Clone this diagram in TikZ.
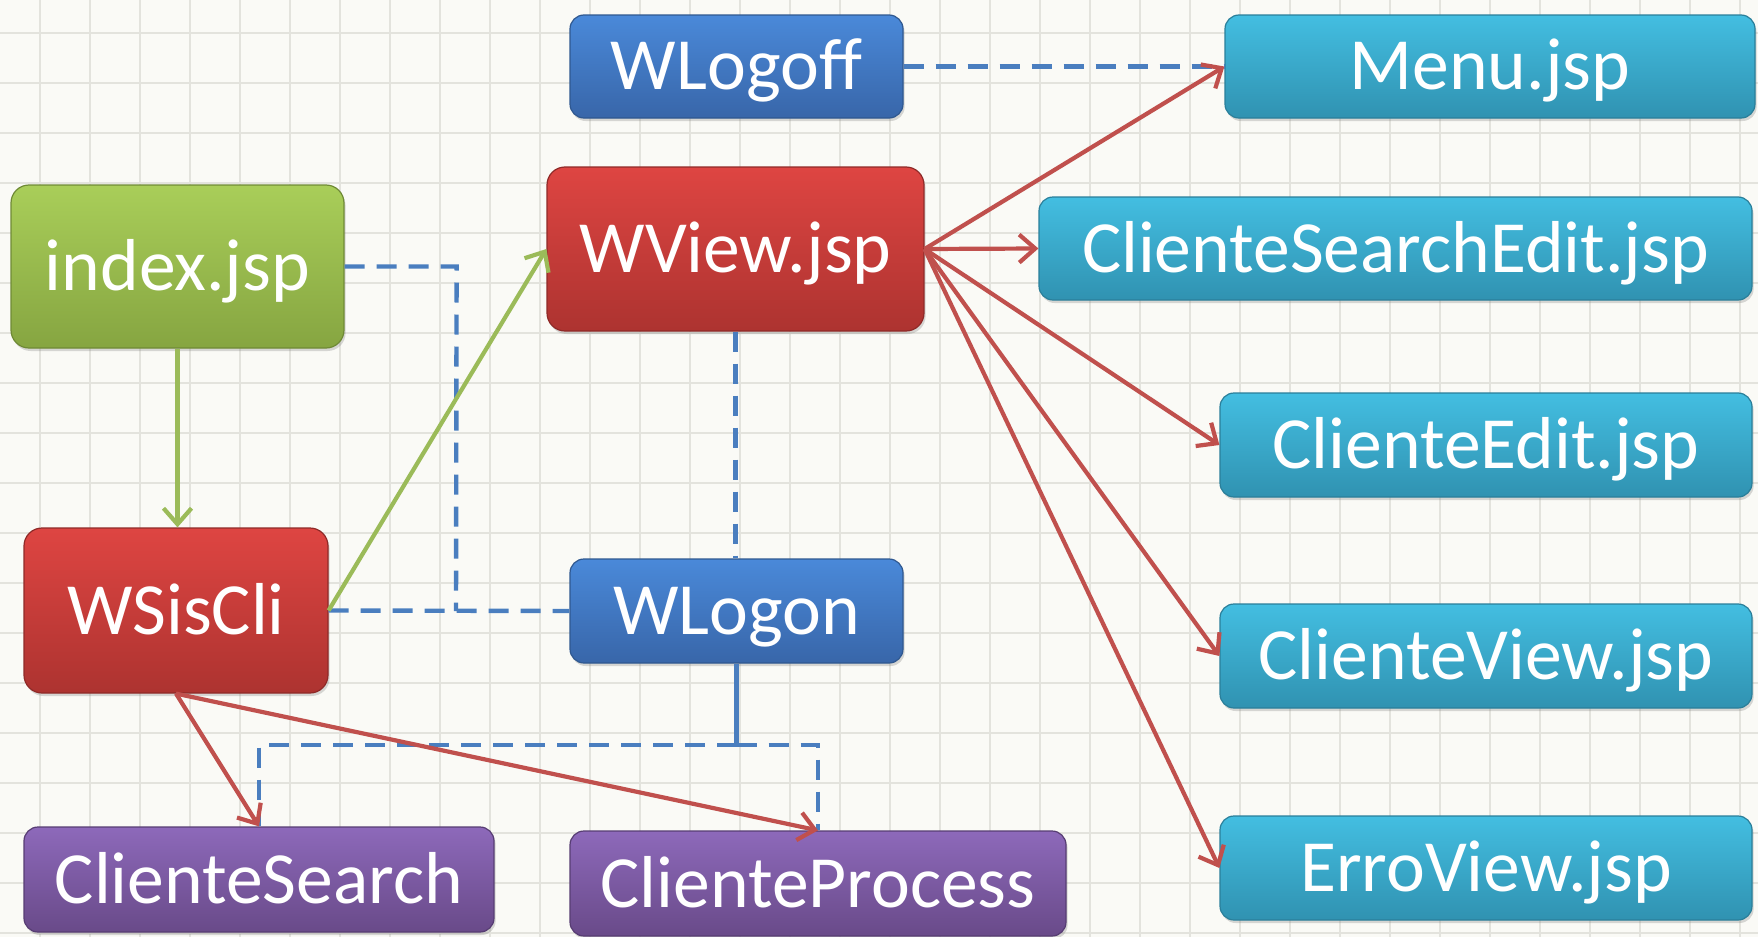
\documentclass[tikz,border=0pt]{standalone}
\usepackage{fontspec}
\setmainfont{Carlito}
\usetikzlibrary{arrows.meta,shadows}
\definecolor{bgcol}{HTML}{FAFAF6}
\definecolor{gridcol}{HTML}{E3E3DD}
\definecolor{cyanT}{HTML}{43BEE1}
\definecolor{cyanB}{HTML}{3092B1}
\definecolor{cyanD}{HTML}{2A7F9A}
\definecolor{blueT}{HTML}{4A89D9}
\definecolor{blueB}{HTML}{3866A9}
\definecolor{blueD}{HTML}{2F5890}
\definecolor{redT}{HTML}{DE4542}
\definecolor{redB}{HTML}{AD3330}
\definecolor{redD}{HTML}{8F2A28}
\definecolor{greenT}{HTML}{A9CE59}
\definecolor{greenB}{HTML}{86A541}
\definecolor{greenD}{HTML}{6F8A35}
\definecolor{purpT}{HTML}{8D69BA}
\definecolor{purpB}{HTML}{694A89}
\definecolor{purpD}{HTML}{573D73}
\definecolor{lineblue}{HTML}{4A7EBF}
\definecolor{linered}{HTML}{C0504D}
\definecolor{linegreen}{HTML}{9BBB59}
\begin{document}
\begin{tikzpicture}[x=0.5pt,y=-0.5pt,
  sz/.style 2 args={minimum width=#1*0.5pt, minimum height=#2*0.5pt},
  box/.style={rounded corners=7pt, line width=0.6pt, text=white, inner sep=0pt,
    font=\fontsize{36.8}{40}\selectfont, text height=23.5pt, text depth=0pt,
    drop shadow={opacity=0.3, shadow xshift=0.8pt, shadow yshift=-1.5pt}},
  cyanbox/.style={box, top color=cyanT, bottom color=cyanB, draw=cyanD},
  bluebox/.style={box, top color=blueT, bottom color=blueB, draw=blueD},
  redbox/.style={box, top color=redT, bottom color=redB, draw=redD, rounded corners=9pt},
  greenbox/.style={box, top color=greenT, bottom color=greenB, draw=greenD, rounded corners=9pt},
  purpbox/.style={box, top color=purpT, bottom color=purpB, draw=purpD},
  bluedash/.style={draw=lineblue, line width=2.2pt, dash pattern=on 10pt off 6pt},
  bluesolid/.style={draw=lineblue, line width=2.2pt},
  redarrow/.style={draw=linered, line width=2.1pt, -{Straight Barb[length=8pt,width=14pt]}},
  greenarrow/.style={draw=linegreen, line width=2.1pt, -{Straight Barb[length=8pt,width=14pt]}}
]
\useasboundingbox (0,0) rectangle (1758,937);
\fill[bgcol] (0,0) rectangle (1758,937);
\foreach \x in {40,90,...,1740} \draw[gridcol, line width=0.7pt] (\x,0) -- (\x,937);
\foreach \y in {33,83,...,933} \draw[gridcol, line width=0.7pt] (0,\y) -- (1758,\y);

% nodes
\node[bluebox, sz={333}{103}] (wlogoff) at (736.5,66.5) {WLogoff};
\node[cyanbox, sz={530}{103}] (menu) at (1490,66.5) {Menu.jsp};
\node[greenbox, sz={333}{163}] (index) at (177.5,266.5) {index.jsp};
\node[redbox, sz={377}{164}] (wview) at (735.5,249) {WView.jsp};
\node[cyanbox, sz={713}{103}] (cse) at (1395.5,248.5) {ClienteSearchEdit.jsp};
\node[cyanbox, sz={532}{104}] (cedit) at (1486,445) {ClienteEdit.jsp};
\node[redbox, sz={304}{165}] (wsiscli) at (176,610.5) {WSisCli};
\node[bluebox, sz={333}{104}] (wlogon) at (736.5,611) {WLogon};
\node[cyanbox, sz={532}{104}] (cview) at (1486,656) {ClienteView.jsp};
\node[purpbox, sz={470}{105}] (csearch) at (259,879.5) {ClienteSearch};
\node[purpbox, sz={496}{105}] (cprocess) at (818,883.5) {ClienteProcess};
\node[cyanbox, sz={532}{104}] (erroview) at (1486,868) {ErroView.jsp};

% blue connectors
\draw[bluedash] (wlogoff.east) -- (menu.west);
\draw[bluedash] (wsiscli.east) -- (wlogon.west);
\coordinate (elb) at (456,611);
\draw[bluedash] (index.east) -- ++(112,0) -- (elb);
\draw[bluedash] (wview.south) -- (wview.south |- wlogon.north);
\coordinate (jn) at (736.5,745);
\draw[bluesolid] (wlogon.south) -- (jn);
\draw[bluedash] (jn) -| (csearch.north);
\draw[bluedash] (jn) -| (cprocess.north);

% green connectors
\draw[greenarrow] (index.south) -- (index.south |- wsiscli.north);
\draw[greenarrow] (wsiscli.east) -- (wview.west);

% red connectors
\foreach \t in {menu,cse,cedit,cview,erroview}
  \draw[redarrow] (wview.east) -- (\t.west);
\draw[redarrow] (wsiscli.south) -- (csearch.north);
\draw[redarrow] (wsiscli.south) -- (cprocess.north);
\end{tikzpicture}
\end{document}
